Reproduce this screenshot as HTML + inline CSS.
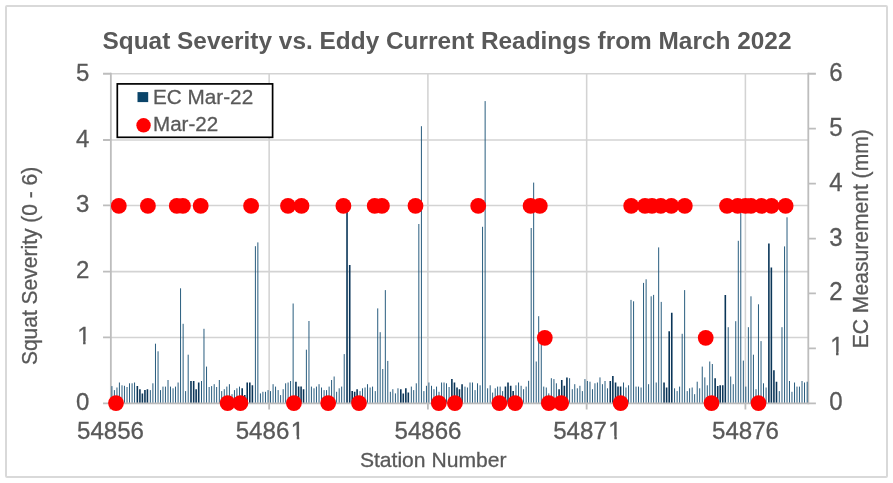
<!DOCTYPE html>
<html><head><meta charset="utf-8"><title>Squat Severity vs. Eddy Current Readings</title>
<style>html,body{margin:0;padding:0;background:#fff}svg{display:block}</style></head>
<body>
<svg width="893" height="483" viewBox="0 0 893 483" font-family="'Liberation Sans', Arial, sans-serif" fill="#595959">
<rect x="0" y="0" width="893" height="483" fill="#fff"/>
<rect x="6" y="6" width="881" height="471" rx="1" fill="#fff" stroke="#d9d9d9" stroke-width="2"/>
<path d="M110.85 337.45H808.3 M110.85 271.60H808.3 M110.85 205.45H808.3 M110.85 140.00H808.3 M110.85 73.75H808.3 M269.15 73.75V403.3 M427.90 73.75V403.3 M586.65 73.75V403.3 M745.40 73.75V403.3" stroke="#d3d3d3" stroke-width="1.55" fill="none"/>
<path d="M110.85 72.85V404.2M808.3 72.85V404.2" stroke="#bdbdbd" stroke-width="1.8" fill="none"/>
<path d="M111.92 403.3V386.1 M114.38 403.3V390.1 M116.96 403.3V387.5 M119.42 403.3V382.5 M122.00 403.3V385.3 M124.46 403.3V385.8 M127.04 403.3V387.0 M129.50 403.3V383.3 M132.08 403.3V383.3 M134.54 403.3V382.5 M150.33 403.3V390.1 M152.90 403.3V383.3 M155.48 403.3V343.7 M158.06 403.3V351.3 M160.52 403.3V390.1 M162.98 403.3V386.6 M165.45 403.3V386.6 M168.02 403.3V380.0 M170.49 403.3V386.6 M173.06 403.3V388.3 M175.53 403.3V386.6 M178.10 403.3V382.5 M180.56 403.3V288.3 M183.14 403.3V323.8 M185.60 403.3V391.1 M188.18 403.3V354.7 M201.51 403.3V381.0 M203.97 403.3V328.8 M206.54 403.3V366.6 M209.15 403.3V387.0 M211.61 403.3V386.1 M214.19 403.3V384.2 M216.65 403.3V387.0 M219.34 403.3V380.0 M221.69 403.3V391.1 M224.27 403.3V389.2 M226.84 403.3V386.6 M229.42 403.3V384.2 M232.00 403.3V394.2 M234.46 403.3V390.1 M236.92 403.3V388.3 M239.50 403.3V386.6 M255.40 403.3V246.2 M257.86 403.3V242.4 M260.44 403.3V393.4 M262.90 403.3V391.8 M265.48 403.3V391.8 M268.05 403.3V390.1 M270.52 403.3V391.1 M273.09 403.3V384.2 M275.56 403.3V386.6 M278.13 403.3V390.1 M280.60 403.3V395.1 M283.17 403.3V389.2 M285.63 403.3V383.3 M288.10 403.3V382.5 M290.56 403.3V381.0 M293.14 403.3V303.5 M306.38 403.3V349.7 M308.96 403.3V321.0 M311.42 403.3V386.6 M314.00 403.3V388.3 M316.46 403.3V386.6 M319.04 403.3V384.2 M321.50 403.3V387.5 M324.08 403.3V390.1 M326.54 403.3V390.1 M329.12 403.3V386.6 M331.58 403.3V380.0 M334.15 403.3V376.5 M336.62 403.3V391.8 M339.19 403.3V388.3 M341.66 403.3V386.6 M344.23 403.3V354.1 M360.02 403.3V391.1 M362.49 403.3V388.3 M365.06 403.3V387.5 M367.53 403.3V384.2 M370.10 403.3V387.5 M372.56 403.3V386.6 M375.25 403.3V391.1 M377.72 403.3V308.4 M380.18 403.3V332.2 M382.75 403.3V369.0 M385.33 403.3V290.1 M387.79 403.3V360.9 M390.37 403.3V391.8 M392.83 403.3V389.2 M395.41 403.3V393.4 M397.98 403.3V388.3 M411.34 403.3V386.6 M413.69 403.3V390.1 M416.27 403.3V383.3 M418.84 403.3V224.0 M421.42 403.3V126.2 M423.88 403.3V391.1 M426.46 403.3V385.8 M428.92 403.3V382.5 M431.50 403.3V385.8 M433.96 403.3V389.2 M436.54 403.3V386.6 M439.00 403.3V391.8 M441.58 403.3V382.5 M444.04 403.3V382.5 M446.50 403.3V383.3 M449.08 403.3V387.0 M464.98 403.3V386.6 M467.44 403.3V387.5 M470.02 403.3V382.5 M472.48 403.3V382.5 M475.06 403.3V390.1 M477.52 403.3V383.3 M480.10 403.3V385.3 M482.56 403.3V226.8 M485.14 403.3V101.1 M487.60 403.3V388.3 M490.18 403.3V385.3 M492.64 403.3V392.6 M495.22 403.3V388.3 M497.60 403.3V386.6 M500.17 403.3V386.6 M502.64 403.3V391.1 M515.96 403.3V385.3 M518.54 403.3V382.5 M521.12 403.3V385.8 M523.58 403.3V389.2 M526.15 403.3V386.6 M528.62 403.3V380.8 M531.19 403.3V228.0 M533.66 403.3V182.6 M536.23 403.3V361.5 M538.70 403.3V316.2 M541.27 403.3V340.0 M543.74 403.3V386.6 M546.31 403.3V387.5 M548.77 403.3V393.4 M551.35 403.3V378.2 M553.93 403.3V379.1 M556.39 403.3V383.3 M569.60 403.3V378.2 M572.29 403.3V389.2 M574.75 403.3V384.2 M577.33 403.3V388.3 M579.91 403.3V385.8 M582.37 403.3V391.1 M584.95 403.3V379.1 M587.41 403.3V381.0 M589.98 403.3V381.7 M592.48 403.3V389.2 M594.94 403.3V383.3 M597.41 403.3V382.5 M599.98 403.3V377.4 M602.45 403.3V384.2 M605.02 403.3V381.0 M607.48 403.3V388.3 M623.50 403.3V382.5 M625.96 403.3V387.5 M628.54 403.3V385.3 M631.00 403.3V299.9 M633.58 403.3V301.3 M636.04 403.3V386.6 M638.50 403.3V386.6 M641.08 403.3V387.5 M643.54 403.3V282.9 M646.12 403.3V279.3 M648.58 403.3V384.2 M651.16 403.3V296.3 M653.62 403.3V294.9 M656.20 403.3V382.5 M658.66 403.3V247.4 M661.24 403.3V301.9 M674.56 403.3V388.3 M677.14 403.3V391.1 M679.60 403.3V386.6 M682.18 403.3V333.8 M684.64 403.3V290.1 M687.22 403.3V391.1 M689.60 403.3V388.3 M692.17 403.3V387.5 M694.64 403.3V394.2 M697.21 403.3V381.7 M699.68 403.3V388.3 M702.25 403.3V366.6 M704.83 403.3V377.4 M707.29 403.3V385.3 M709.76 403.3V361.5 M712.33 403.3V364.0 M728.23 403.3V327.2 M730.70 403.3V376.5 M733.27 403.3V384.2 M735.74 403.3V321.2 M738.31 403.3V240.8 M740.77 403.3V212.0 M743.35 403.3V360.6 M745.81 403.3V386.6 M748.39 403.3V327.2 M750.97 403.3V296.3 M753.43 403.3V354.7 M756.00 403.3V389.2 M758.47 403.3V304.3 M761.04 403.3V341.1 M763.51 403.3V383.3 M766.08 403.3V387.5 M779.30 403.3V391.1 M781.98 403.3V327.2 M784.56 403.3V246.4 M787.03 403.3V217.3 M789.49 403.3V381.0 M791.96 403.3V391.8 M794.53 403.3V382.5 M796.99 403.3V386.6 M799.46 403.3V386.6 M802.03 403.3V381.0 M804.50 403.3V382.5 M807.18 403.3V381.7" stroke="#1d5478" stroke-width="0.95" fill="none"/>
<path d="M137.34 403.3V386.1 M139.91 403.3V389.2 M142.38 403.3V393.4 M144.95 403.3V390.1 M147.42 403.3V389.2 M190.98 403.3V381.0 M193.67 403.3V381.0 M196.13 403.3V389.2 M198.71 403.3V382.5 M242.19 403.3V388.3 M244.76 403.3V395.1 M247.23 403.3V382.5 M249.80 403.3V382.5 M252.38 403.3V385.3 M295.94 403.3V381.7 M298.62 403.3V386.6 M301.09 403.3V386.6 M303.55 403.3V389.2 M347.03 403.3V211.0 M349.72 403.3V265.0 M352.18 403.3V391.1 M354.65 403.3V391.8 M357.11 403.3V389.2 M400.82 403.3V389.2 M403.28 403.3V393.4 M405.85 403.3V388.3 M408.32 403.3V392.6 M451.88 403.3V379.1 M454.45 403.3V382.5 M457.03 403.3V387.5 M459.49 403.3V389.2 M462.07 403.3V384.2 M505.44 403.3V386.6 M508.01 403.3V382.5 M510.70 403.3V385.8 M513.16 403.3V391.1 M559.08 403.3V389.2 M561.76 403.3V380.0 M564.34 403.3V385.8 M566.92 403.3V377.4 M610.28 403.3V381.0 M612.86 403.3V376.0 M615.55 403.3V382.5 M618.01 403.3V386.6 M620.59 403.3V386.6 M664.04 403.3V382.5 M666.61 403.3V387.5 M669.19 403.3V331.2 M671.76 403.3V312.8 M715.13 403.3V378.2 M717.71 403.3V386.1 M720.17 403.3V385.3 M722.75 403.3V385.3 M725.32 403.3V294.9 M768.88 403.3V243.4 M771.35 403.3V267.6 M773.92 403.3V370.2 M776.50 403.3V381.7" stroke="#0a3558" stroke-width="1.6" fill="none"/>
<path d="M103.05 403.3H815.9 M103.05 337.45H110.85 M103.05 271.60H110.85 M103.05 205.45H110.85 M103.05 140.00H110.85 M103.05 73.75H110.85 M808.3 348.38h7.6 M808.3 293.45h7.6 M808.3 238.53h7.6 M808.3 183.60h7.6 M808.3 128.68h7.6 M808.3 73.75h7.6 M110.40 403.3v6.2 M269.15 403.3v6.2 M427.90 403.3v6.2 M586.65 403.3v6.2 M745.40 403.3v6.2" stroke="#bdbdbd" stroke-width="1.8" fill="none"/>
<circle cx="118.8" cy="205.9" r="7.9" fill="#ff0000"/>
<circle cx="147.9" cy="205.9" r="7.9" fill="#ff0000"/>
<circle cx="176.8" cy="205.9" r="7.9" fill="#ff0000"/>
<circle cx="182.9" cy="205.9" r="7.9" fill="#ff0000"/>
<circle cx="200.7" cy="205.9" r="7.9" fill="#ff0000"/>
<circle cx="251.1" cy="205.9" r="7.9" fill="#ff0000"/>
<circle cx="288.0" cy="205.9" r="7.9" fill="#ff0000"/>
<circle cx="301.5" cy="205.9" r="7.9" fill="#ff0000"/>
<circle cx="343.4" cy="205.9" r="7.9" fill="#ff0000"/>
<circle cx="374.7" cy="205.9" r="7.9" fill="#ff0000"/>
<circle cx="381.9" cy="205.9" r="7.9" fill="#ff0000"/>
<circle cx="415.5" cy="205.9" r="7.9" fill="#ff0000"/>
<circle cx="478.2" cy="205.9" r="7.9" fill="#ff0000"/>
<circle cx="530.6" cy="205.9" r="7.9" fill="#ff0000"/>
<circle cx="539.8" cy="205.9" r="7.9" fill="#ff0000"/>
<circle cx="631.2" cy="205.9" r="7.9" fill="#ff0000"/>
<circle cx="645.0" cy="205.9" r="7.9" fill="#ff0000"/>
<circle cx="652.0" cy="205.9" r="7.9" fill="#ff0000"/>
<circle cx="660.8" cy="205.9" r="7.9" fill="#ff0000"/>
<circle cx="671.3" cy="205.9" r="7.9" fill="#ff0000"/>
<circle cx="684.8" cy="205.9" r="7.9" fill="#ff0000"/>
<circle cx="727.0" cy="205.9" r="7.9" fill="#ff0000"/>
<circle cx="737.7" cy="205.9" r="7.9" fill="#ff0000"/>
<circle cx="745.5" cy="205.9" r="7.9" fill="#ff0000"/>
<circle cx="751.0" cy="205.9" r="7.9" fill="#ff0000"/>
<circle cx="761.5" cy="205.9" r="7.9" fill="#ff0000"/>
<circle cx="771.5" cy="205.9" r="7.9" fill="#ff0000"/>
<circle cx="785.6" cy="205.9" r="7.9" fill="#ff0000"/>
<circle cx="116.0" cy="403.1" r="7.9" fill="#ff0000"/>
<circle cx="227.6" cy="403.1" r="7.9" fill="#ff0000"/>
<circle cx="240.4" cy="403.1" r="7.9" fill="#ff0000"/>
<circle cx="293.9" cy="403.1" r="7.9" fill="#ff0000"/>
<circle cx="328.2" cy="403.1" r="7.9" fill="#ff0000"/>
<circle cx="359.0" cy="403.1" r="7.9" fill="#ff0000"/>
<circle cx="438.8" cy="403.1" r="7.9" fill="#ff0000"/>
<circle cx="454.9" cy="403.1" r="7.9" fill="#ff0000"/>
<circle cx="499.4" cy="403.1" r="7.9" fill="#ff0000"/>
<circle cx="515.2" cy="403.1" r="7.9" fill="#ff0000"/>
<circle cx="548.8" cy="403.1" r="7.9" fill="#ff0000"/>
<circle cx="561.2" cy="403.1" r="7.9" fill="#ff0000"/>
<circle cx="620.6" cy="403.1" r="7.9" fill="#ff0000"/>
<circle cx="711.5" cy="403.1" r="7.9" fill="#ff0000"/>
<circle cx="758.5" cy="403.1" r="7.9" fill="#ff0000"/>
<circle cx="544.8" cy="337.8" r="7.9" fill="#ff0000"/>
<circle cx="705.7" cy="337.8" r="7.9" fill="#ff0000"/>
<rect x="117.3" y="83.9" width="155.3" height="53.4" fill="#fff" stroke="#000" stroke-width="1.7"/>
<rect x="137.5" y="92.1" width="10.7" height="10.0" fill="#0a4469"/>
<circle cx="143.55" cy="125.3" r="7.2" fill="#ff0000"/>
<text transform="translate(153 104) scale(0.997 1)" font-size="20.8" text-anchor="start" stroke="#595959" stroke-width="0.3">EC Mar-22</text>
<text transform="translate(153 130.8) scale(0.99 1)" font-size="20.8" text-anchor="start" stroke="#595959" stroke-width="0.3">Mar-22</text>
<text transform="translate(447.0 49.2) scale(1.0345 1)" font-size="23.6" text-anchor="middle" font-weight="bold">Squat Severity vs. Eddy Current Readings from March 2022</text>
<text transform="translate(89.4 409.6) scale(0.968 1)" font-size="24.8" text-anchor="end" stroke="#595959" stroke-width="0.3">0</text>
<text transform="translate(90.60000000000001 344.25) scale(0.968 1)" font-size="24.8" text-anchor="end" stroke="#595959" stroke-width="0.3">1</text>
<path d="M77.88 341.10H83.11V345.65H77.88ZM85.59 341.10H90.63V345.65H85.59Z" fill="#fff"/>
<text transform="translate(89.4 278.0) scale(0.968 1)" font-size="24.8" text-anchor="end" stroke="#595959" stroke-width="0.3">2</text>
<text transform="translate(89.4 212.15) scale(0.968 1)" font-size="24.8" text-anchor="end" stroke="#595959" stroke-width="0.3">3</text>
<text transform="translate(89.4 147.2) scale(0.968 1)" font-size="24.8" text-anchor="end" stroke="#595959" stroke-width="0.3">4</text>
<text transform="translate(89.4 81.35) scale(0.968 1)" font-size="24.8" text-anchor="end" stroke="#595959" stroke-width="0.3">5</text>
<text transform="translate(829.2 409.65) scale(0.962 1)" font-size="25.0" text-anchor="start" stroke="#595959" stroke-width="0.3">0</text>
<text transform="translate(830.2 354.94) scale(0.962 1)" font-size="25.0" text-anchor="start" stroke="#595959" stroke-width="0.3">1</text>
<path d="M830.83 351.77H836.07V356.34H830.83ZM838.55 351.77H843.60V356.34H838.55Z" fill="#fff"/>
<text transform="translate(829.2 300.23) scale(0.962 1)" font-size="25.0" text-anchor="start" stroke="#595959" stroke-width="0.3">2</text>
<text transform="translate(829.2 245.52) scale(0.962 1)" font-size="25.0" text-anchor="start" stroke="#595959" stroke-width="0.3">3</text>
<text transform="translate(829.2 190.81) scale(0.962 1)" font-size="25.0" text-anchor="start" stroke="#595959" stroke-width="0.3">4</text>
<text transform="translate(829.2 136.1) scale(0.962 1)" font-size="25.0" text-anchor="start" stroke="#595959" stroke-width="0.3">5</text>
<text transform="translate(829.2 81.39) scale(0.962 1)" font-size="25.0" text-anchor="start" stroke="#595959" stroke-width="0.3">6</text>
<text transform="translate(110.5 438.9) scale(1.026 1)" font-size="23.5" text-anchor="middle" stroke="#595959" stroke-width="0.3">54856</text>
<text transform="translate(270.0 438.9) scale(1.026 1)" font-size="23.5" text-anchor="middle" stroke="#595959" stroke-width="0.3">5486<tspan dx="1.5">1</tspan></text>
<path d="M291.49 435.84H296.74V440.30H291.49ZM299.23 435.84H304.29V440.30H299.23Z" fill="#fff"/>
<text transform="translate(428.0 438.9) scale(1.026 1)" font-size="23.5" text-anchor="middle" stroke="#595959" stroke-width="0.3">54866</text>
<text transform="translate(587.5 438.9) scale(1.026 1)" font-size="23.5" text-anchor="middle" stroke="#595959" stroke-width="0.3">5487<tspan dx="1.5">1</tspan></text>
<path d="M609.09 435.84H614.34V440.30H609.09ZM616.83 435.84H621.89V440.30H616.83Z" fill="#fff"/>
<text transform="translate(745.5 438.9) scale(1.026 1)" font-size="23.5" text-anchor="middle" stroke="#595959" stroke-width="0.3">54876</text>
<text transform="translate(433.2 466.7) scale(1.01 1)" font-size="20.9" text-anchor="middle" stroke="#595959" stroke-width="0.3">Station Number</text>
<text transform="translate(36.5 265.9) rotate(-90) scale(0.968 1)" font-size="21.7" text-anchor="middle" stroke="#595959" stroke-width="0.3">Squat Severity (0 - 6)</text>
<text transform="translate(868.1 238.75) rotate(-90) scale(0.99 1)" font-size="21.3" text-anchor="middle" stroke="#595959" stroke-width="0.3">EC Measurement (mm)</text>
</svg>
</body></html>
